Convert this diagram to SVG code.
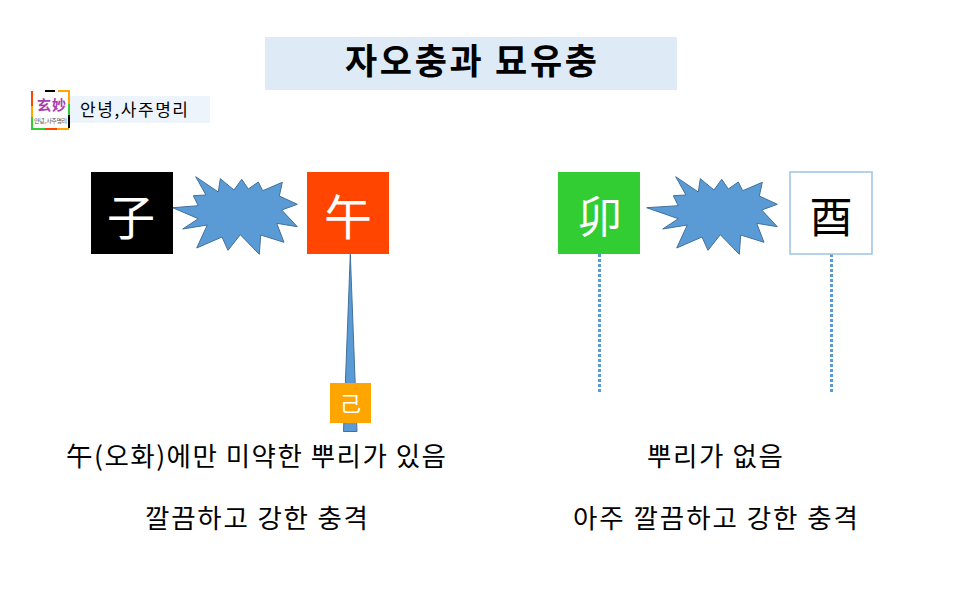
<svg xmlns="http://www.w3.org/2000/svg" width="960" height="590" viewBox="0 0 960 590">
<style>
text{font-family:"Noto Sans CJK KR","Noto Sans",sans-serif;fill:#000}
.l{font-size:26.5px;text-anchor:middle}
.g{font-size:48px;text-anchor:middle}
.burst{fill:#5b9bd5;stroke:#41719c;stroke-width:1}
.dot{fill:none;stroke:#5b9bd5;stroke-width:3;stroke-dasharray:3 2}
</style>
<rect width="960" height="590" fill="#fff"/>
<g id="title"><rect x="265" y="37" width="412" height="53" fill="#deeaf6"/><text x="345" y="74" font-size="35" font-weight="700" textLength="252">자오충과 묘유충</text></g>
<g id="logo">
<rect x="31" y="90" width="39" height="40" fill="#fff"/>
<path d="M45 91H55" stroke="#000" stroke-width="2"/>
<path d="M32 91V106" stroke="#ff4500" stroke-width="2"/>
<path d="M58 91H69V104" fill="none" stroke="#ffa500" stroke-width="2"/>
<path d="M69 104V115" stroke="#32cd32" stroke-width="2"/>
<path d="M69 115V128" stroke="#000" stroke-width="2"/>
<path d="M69 129H57" stroke="#ffa500" stroke-width="2"/>
<path d="M57 129H45" stroke="#ff4500" stroke-width="2"/>
<path d="M45 129H32V117" fill="none" stroke="#32cd32" stroke-width="2"/>
<path d="M32 117V106" stroke="#ffa500" stroke-width="2"/>
<text x="37" y="110" font-size="14" font-weight="700" textLength="29" style="fill:#a93cb0;font-family:'Noto Sans CJK SC',serif">玄妙</text>
<text x="34" y="123" font-size="6" textLength="33" style="fill:#555">안녕, 사주명리</text>
</g>
<g id="subtitle"><rect x="70" y="96" width="140" height="27" fill="#eef4fb"/><text x="80" y="116" font-size="17" textLength="108">안녕,사주명리</text></g>
<g id="connectors">
<polygon class="burst" points="172.7,207.7 198.3,205.7 193.3,195.7 206,195 195.7,176.7 218.3,192 220.3,178.7 234,190 241.7,179.3 248.3,189 258.3,182 262.7,190.7 282.3,182.3 279.3,196 297.3,204.3 281.7,210 297.3,226.7 276.7,223.3 284,242.3 260.7,235 259.3,254.3 240.3,234.7 228,250.3 222,237 196.7,248 207.3,225 182.7,229 198.3,218.7"/>
<polygon class="burst" points="646.7,207.7 678.3,205.7 673.3,195.7 686,195 675.7,176.7 698.3,192 700.3,178.7 714,190 721.7,179.3 728.3,189 738.3,182 742.7,190.7 762.3,182.3 759.3,196 777.3,204.3 761.7,210 777.3,226.7 756.7,223.3 764,242.3 740.7,235 739.3,254.3 720.3,234.7 708,250.3 702,237 676.7,248 687.3,225 662.7,229 678.3,218.7"/>
<polygon class="burst" points="350.3,254 343.5,431.5 357,431.5"/>
<line class="dot" x1="599.5" y1="254" x2="599.5" y2="393"/>
<line class="dot" x1="831.5" y1="254" x2="831.5" y2="393"/>
</g>
<g id="node-ja"><rect x="91" y="172" width="82" height="82" fill="#000"/><text class="g" x="131" y="235" style="fill:#fff">子</text></g>
<g id="node-o"><rect x="307" y="172" width="82" height="82" fill="#ff4500"/><text class="g" x="348" y="235" style="fill:#fff">午</text></g>
<g id="node-myo"><rect x="558" y="172" width="82" height="82" fill="#32cd32"/><text class="g" x="600" y="233" style="fill:#fff;font-size:44px">卯</text></g>
<g id="node-yu"><rect x="790" y="172" width="82" height="82" fill="#fff" stroke="#9dc3e6" stroke-width="1.5"/><text class="g" x="831" y="233" style="font-size:43px">酉</text></g>
<g id="node-gi"><rect x="330" y="383" width="41" height="40" fill="#ffa500"/><text x="350.5" y="411" text-anchor="middle" font-size="21" style="fill:#fff">己</text></g>
<g id="labels">
<text x="66" y="466" font-size="26.5" textLength="380">午(오화)에만 미약한 뿌리가 있음</text>
<text x="145" y="528" font-size="26.5" textLength="223">깔끔하고 강한 충격</text>
<text x="647" y="466" font-size="26.5" textLength="136">뿌리가 없음</text>
<text x="573" y="528" font-size="26.5" textLength="285">아주 깔끔하고 강한 충격</text>
</g>
</svg>
